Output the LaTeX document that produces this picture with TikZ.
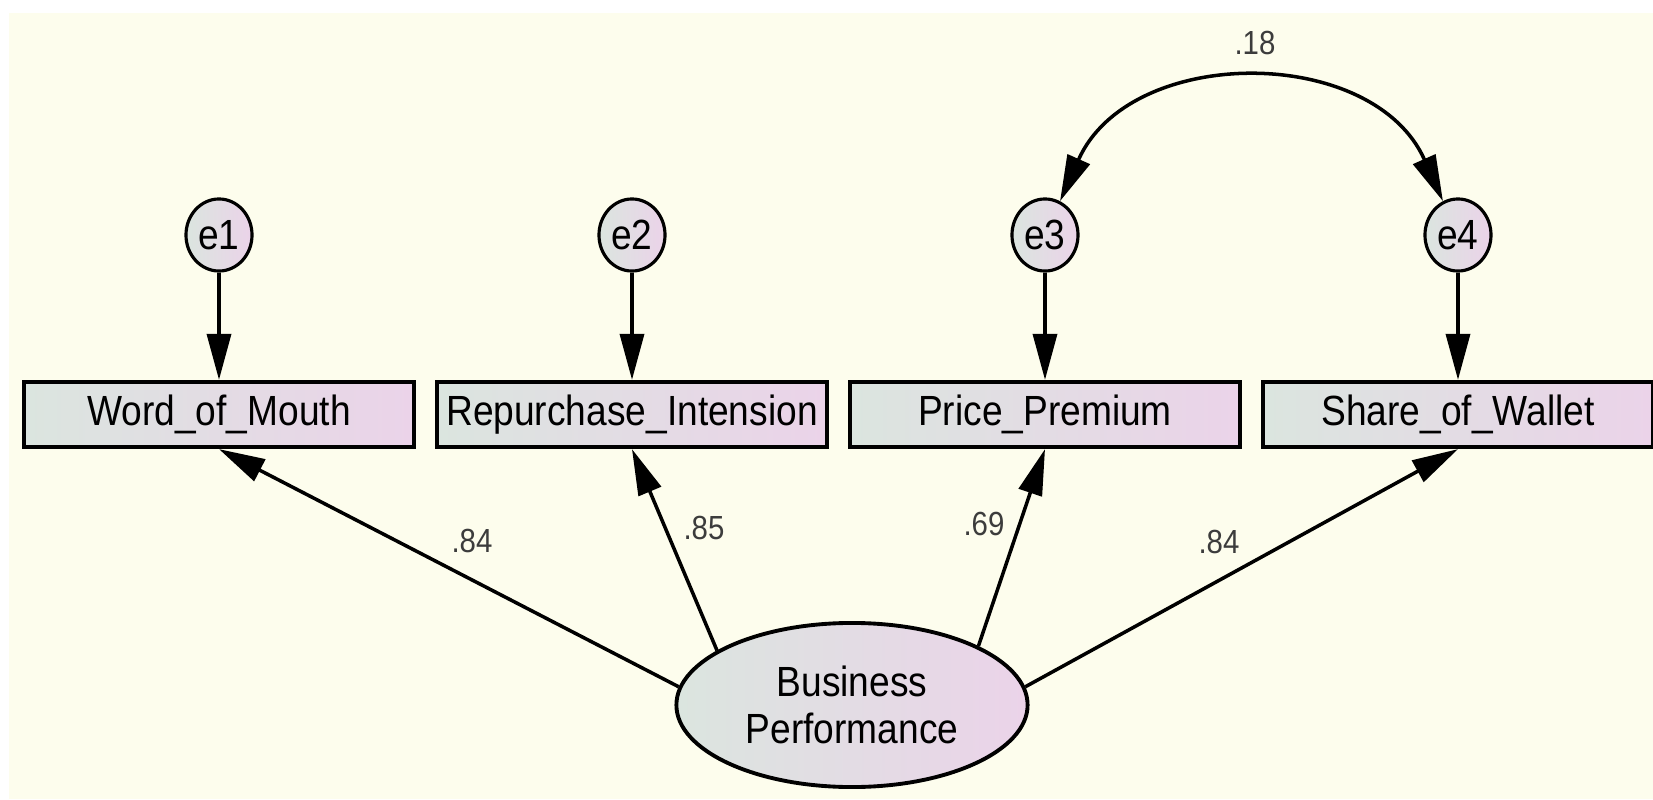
\documentclass[tikz,border=0pt]{standalone}
\usepackage{fontspec}
\setmainfont{Liberation Sans}[FakeStretch=0.88]
\usetikzlibrary{arrows.meta,shapes.geometric}
\definecolor{paper}{RGB}{253,253,237}
\definecolor{fillL}{RGB}{219,229,223}
\definecolor{fillR}{RGB}{235,211,233}
\definecolor{lbl}{RGB}{60,60,60}

\begin{document}
\begin{tikzpicture}[x=0.01cm, y=0.01cm,
    obs/.style={draw, line width=1.2pt, left color=fillL, right color=fillR,
      minimum width=3.9cm, minimum height=0.65cm, inner sep=0pt,
      font=\fontsize{12}{13.5}\selectfont},
    err/.style={ellipse, draw, line width=0.9pt, left color=fillL, right color=fillR,
      minimum width=0.66cm, minimum height=0.72cm, inner sep=0pt,
      font=\fontsize{12}{13.5}\selectfont},
    lat/.style={ellipse, draw, line width=1.1pt, left color=fillL, right color=fillR,
      minimum width=3.51cm, minimum height=1.64cm, inner sep=0pt, align=center,
      font=\fontsize{12}{13.5}\selectfont},
    load/.style={-{Triangle[length=0.46cm,width=0.24cm]}, line width=1pt},
    cov/.style={{Triangle[length=0.46cm,width=0.24cm]}-{Triangle[length=0.46cm,width=0.24cm]}, line width=1pt},
    wt/.style={text=lbl, inner sep=0pt, font=\fontsize{9.5}{11}\selectfont}]
  \def\by{384.5}
  \def\ey{564}
  %
  \useasboundingbox (0,0) rectangle (1653,799);
  \fill[paper] (9,0) rectangle (1653,786);
  %
  \node[obs] (wom) at (219,\by)  {Word\_of\_Mouth};        % indicators
  \node[obs] (rpi) at (632,\by)  {Repurchase\_Intension};
  \node[obs] (pp)  at (1045,\by) {Price\_Premium};
  \node[obs] (sow) at (1458,\by) {Share\_of\_Wallet};
  %%
  \node[err] (e1) at (219,\ey)  {e1};                      % errors
  \node[err] (e2) at (632,\ey)  {e2};
  \node[err] (e3) at (1045,\ey) {e3};
  \node[err] (e4) at (1458,\ey) {e4};
  %%
  \node[lat] (bp) at (852,94) {Business\\Performance};     % latent
  %
  \draw[load] (e1) -- (wom);
  \draw[load] (e2) -- (rpi);
  \draw[load] (e3) -- (pp);
  \draw[load] (e4) -- (sow);
  \draw[load] (bp.174) -- (wom.south);
  \draw[load] (bp.158) -- (rpi.south);
  \draw[load] (bp.25)  -- (pp.south);
  \draw[load] (bp.6)   -- (sow.south);
  \draw[cov] (e3) to[out=66, in=114, looseness=1.15] (e4);
  %
  \node[wt] (w1) at (472,258)  {.84};
  \node[wt] (w2) at (704,271)  {.85};
  \node[wt] (w3) at (984,275)  {.69};
  \node[wt] (w4) at (1219,257) {.84};
  \node[wt] (c34) at (1255,756) {.18};
\end{tikzpicture}
\end{document}
